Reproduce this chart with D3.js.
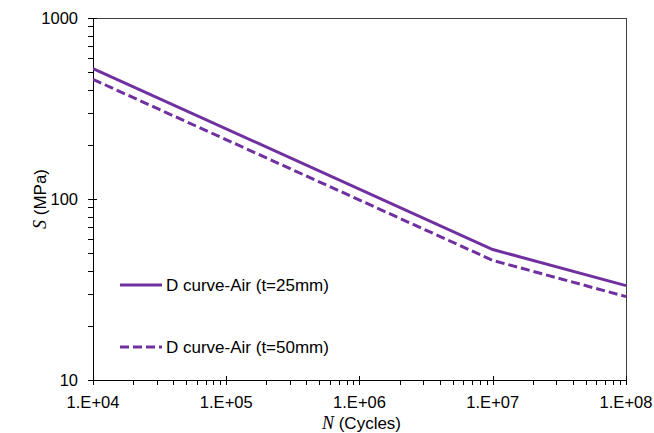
<!DOCTYPE html>
<html><head><meta charset="utf-8">
<script src="https://cdn.jsdelivr.net/npm/d3@7"></script>
<style>body{margin:0;background:#fff}svg{display:block}</style>
</head><body>
<svg id="c" width="654" height="433"></svg>
<script>
const cyclesN = [1e4, 1e7, 1e8];
const stress25 = [526, 52.6, 33.2];
const stress50 = [458, 45.8, 28.9];
const seriesNames = ["D curve-Air (t=25mm)", "D curve-Air (t=50mm)"];
const xTickLabels = ["1.E+04", "1.E+05", "1.E+06", "1.E+07", "1.E+08"];
const xTickValues = [1e4, 1e5, 1e6, 1e7, 1e8];
const yTickLabels = ["10", "100", "1000"];
const yTickValues = [10, 100, 1000];

const svg = d3.select("#c");
const L = 93, R = 626, T = 18, B = 380;
const color = "#7030A0";
const font = "'Liberation Sans', Arial, sans-serif";

const x = d3.scaleLog().domain([1e4, 1e8]).range([L, R]);
const y = d3.scaleLog().domain([10, 1000]).range([B, T]);

// frame
svg.append("rect").attr("x", L + 0.5).attr("y", T + 0.5).attr("width", R - L).attr("height", B - T)
  .attr("fill", "none").attr("stroke", "#404040").attr("stroke-width", 1);

// minor ticks
const xMinor = [];
for (let d = 4; d < 8; d++) for (let k = 2; k <= 9; k++) xMinor.push(k * Math.pow(10, d));
const yMinor = [];
for (let d = 1; d < 3; d++) for (let k = 2; k <= 9; k++) yMinor.push(k * Math.pow(10, d));

const g = svg.append("g").attr("stroke", "#000").attr("stroke-width", 1);
g.selectAll(".xm").data(xMinor).enter().append("line")
  .attr("x1", d => Math.round(x(d)) + 0.5).attr("x2", d => Math.round(x(d)) + 0.5)
  .attr("y1", B).attr("y2", B + 5);
g.selectAll(".xM").data(xTickValues).enter().append("line")
  .attr("x1", d => Math.round(x(d)) + 0.5).attr("x2", d => Math.round(x(d)) + 0.5)
  .attr("y1", B - 4).attr("y2", B + 5);
g.selectAll(".ym").data(yMinor).enter().append("line")
  .attr("y1", d => Math.round(y(d)) + 0.5).attr("y2", d => Math.round(y(d)) + 0.5)
  .attr("x1", L - 5).attr("x2", L);
g.selectAll(".yM").data(yTickValues).enter().append("line")
  .attr("y1", d => Math.round(y(d)) + 0.5).attr("y2", d => Math.round(y(d)) + 0.5)
  .attr("x1", L - 5).attr("x2", L + 4);
// axis lines
g.append("line").attr("x1", L).attr("x2", R + 1).attr("y1", B + 0.5).attr("y2", B + 0.5);
g.append("line").attr("x1", L + 0.5).attr("x2", L + 0.5).attr("y1", T).attr("y2", B);

// tick labels
svg.selectAll(".xl").data(xTickValues).enter().append("text")
  .attr("x", d => x(d)).attr("y", B + 28).attr("text-anchor", "middle")
  .attr("font-family", font).attr("font-size", 16.5).attr("fill", "#000")
  .text((d, i) => xTickLabels[i]);
svg.selectAll(".yl").data(yTickValues).enter().append("text")
  .attr("x", L - 15).attr("y", d => y(d) + 6).attr("text-anchor", "end")
  .attr("font-family", font).attr("font-size", 16.5).attr("fill", "#000")
  .text((d, i) => yTickLabels[i]);

// axis titles
const xt = svg.append("text").attr("x", (L + R) / 2 + 2).attr("y", 429).attr("text-anchor", "middle")
  .attr("font-family", font).attr("font-size", 17).attr("fill", "#000");
xt.append("tspan").attr("font-family", "'Liberation Serif', 'Times New Roman', serif").attr("font-style", "italic").attr("font-size", 18).text("N");
xt.append("tspan").text(" (Cycles)");
const yt = svg.append("text").attr("transform", `translate(46,${(T + B) / 2}) rotate(-90)`).attr("text-anchor", "middle")
  .attr("font-family", font).attr("font-size", 17).attr("fill", "#000");
yt.append("tspan").attr("font-family", "'Liberation Serif', 'Times New Roman', serif").attr("font-style", "italic").attr("font-size", 18).text("S");
yt.append("tspan").text(" (MPa)");

// lines
const line = d3.line().x(d => x(d[0])).y(d => y(d[1]));
svg.append("clipPath").attr("id", "cp").append("rect").attr("x", L).attr("y", T).attr("width", R - L + 1).attr("height", B - T);
svg.append("path").datum(cyclesN.map((n, i) => [n, stress25[i]])).attr("d", line)
  .attr("fill", "none").attr("stroke", color).attr("stroke-width", 3).attr("clip-path", "url(#cp)");
svg.append("path").datum(cyclesN.map((n, i) => [n, stress50[i]])).attr("d", line)
  .attr("fill", "none").attr("stroke", color).attr("stroke-width", 3).attr("stroke-dasharray", "9,4").attr("clip-path", "url(#cp)");

// legend
const leg = [{y: 285, dash: null}, {y: 347, dash: "9,4"}];
leg.forEach((l, i) => {
  svg.append("line").attr("x1", 120).attr("x2", 162).attr("y1", l.y).attr("y2", l.y)
    .attr("stroke", color).attr("stroke-width", 3).attr("stroke-dasharray", l.dash);
  svg.append("text").attr("x", 166).attr("y", l.y + 6).attr("font-family", font).attr("font-size", 17)
    .attr("fill", "#000").text(seriesNames[i]);
});
</script>
</body></html>
